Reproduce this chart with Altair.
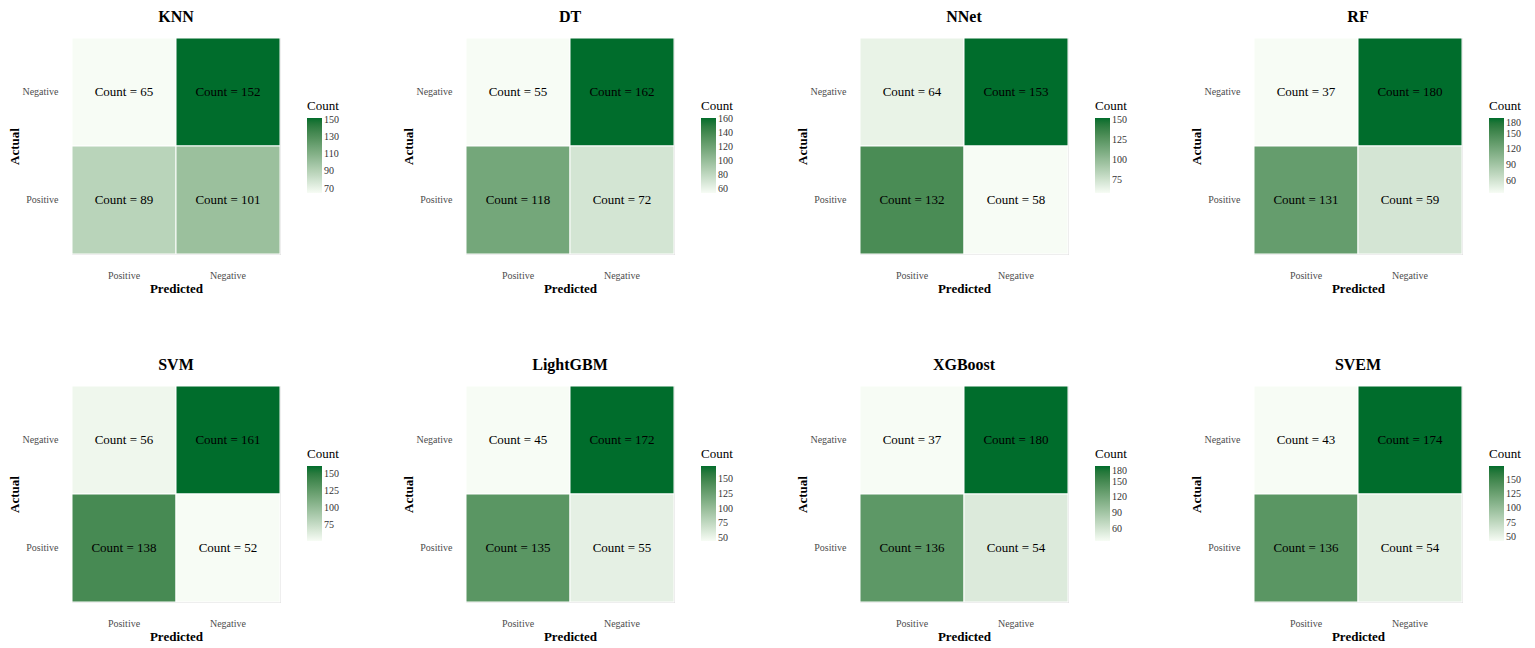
import altair as alt
import pandas as pd

models = ["KNN", "DT", "NNet", "RF", "SVM", "LightGBM", "XGBoost", "SVEM"]
actual = ["Negative", "Negative", "Positive", "Positive"]
predicted = ["Positive", "Negative", "Positive", "Negative"]

counts_knn = [65, 152, 89, 101]
counts_dt = [55, 162, 118, 72]
counts_nnet = [64, 153, 132, 58]
counts_rf = [37, 180, 131, 59]
counts_svm = [56, 161, 138, 52]
counts_lgbm = [45, 172, 135, 55]
counts_xgb = [37, 180, 136, 54]
counts_svem = [43, 174, 136, 54]

ticks_knn = [70, 90, 110, 130, 150]
ticks_dt = [60, 80, 100, 120, 140, 160]
ticks_nnet = [75, 100, 125, 150]
ticks_rf = [60, 90, 120, 150, 180]
ticks_svm = [75, 100, 125, 150]
ticks_lgbm = [50, 75, 100, 125, 150]
ticks_xgb = [60, 90, 120, 150, 180]
ticks_svem = [50, 75, 100, 125, 150]

all_counts = [counts_knn, counts_dt, counts_nnet, counts_rf,
              counts_svm, counts_lgbm, counts_xgb, counts_svem]
all_ticks = [ticks_knn, ticks_dt, ticks_nnet, ticks_rf,
             ticks_svm, ticks_lgbm, ticks_xgb, ticks_svem]

SERIF = "Liberation Serif"
LOW = "#f7fcf5"
HIGH = "#006d2c"


def panel(name, counts, ticks):
    df = pd.DataFrame({"Actual": actual, "Predicted": predicted, "Count": counts})
    df["label"] = "Count = " + df["Count"].astype(str)
    x = alt.X("Predicted:N", sort=["Positive", "Negative"],
              scale=alt.Scale(paddingInner=0, paddingOuter=0),
              axis=alt.Axis(labelAngle=0, labelFont=SERIF, labelFontSize=10,
                            labelColor="#4d4d4d", labelPadding=16, ticks=False,
                            domain=False, grid=False, titleFont=SERIF,
                            titleFontSize=13, titleFontWeight="bold",
                            titleColor="black", titlePadding=2))
    y = alt.Y("Actual:N", sort=["Negative", "Positive"],
              scale=alt.Scale(paddingInner=0, paddingOuter=0),
              axis=alt.Axis(labelFont=SERIF, labelFontSize=10,
                            labelColor="#4d4d4d", labelPadding=14, ticks=False,
                            domain=False, grid=False, titleFont=SERIF,
                            titleFontSize=13, titleFontWeight="bold",
                            titleColor="black", titlePadding=0))
    rect = alt.Chart(df).mark_rect(stroke="white", strokeWidth=1).encode(
        x=x, y=y,
        color=alt.Color("Count:Q",
                        scale=alt.Scale(domain=[min(counts), max(counts)],
                                        range=[LOW, HIGH], interpolate="lab",
                                        zero=False, nice=False),
                        legend=alt.Legend(title="Count", values=ticks,
                                          gradientLength=75, gradientThickness=15,
                                          titleFont=SERIF, titleFontSize=13,
                                          titleFontWeight="normal",
                                          titleColor="black",
                                          labelFont=SERIF, labelFontSize=10,
                                          labelColor="#333333",
                                          gradientStrokeWidth=0,
                                          orient="none", legendX=235, legendY=62)),
    )
    text = alt.Chart(df).mark_text(font=SERIF, fontSize=13, color="black").encode(
        x=alt.X("Predicted:N", sort=["Positive", "Negative"]),
        y=alt.Y("Actual:N", sort=["Negative", "Positive"]),
        text="label:N",
    )
    return alt.layer(rect, text).properties(
        width=208, height=216,
        title=alt.TitleParams(name, font=SERIF, fontSize=16, fontWeight="bold",
                              color="black", anchor="middle", offset=13),
    )


panels = [panel(m, c, t) for m, c, t in zip(models, all_counts, all_ticks)]

row1 = alt.hconcat(*panels[:4], spacing=62).resolve_scale(color="independent")
row2 = alt.hconcat(*panels[4:], spacing=62).resolve_scale(color="independent")
chart = alt.vconcat(row1, row2, spacing=60).resolve_scale(color="independent").configure_view(
    stroke=None
).configure(background="white", padding=0)

chart.save("out.html", embed_options={"renderer": "svg", "actions": False})
